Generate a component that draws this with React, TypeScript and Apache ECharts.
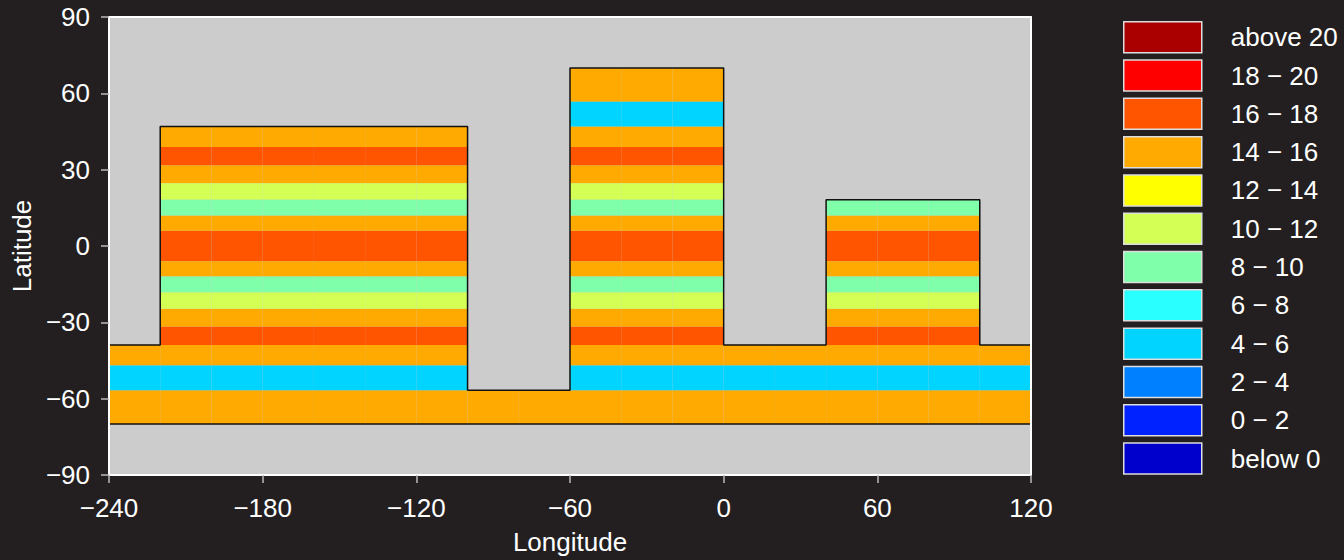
import React, { useEffect, useRef } from "react";
import * as echarts from "echarts";

// Longitude segments of the domain and the latitude of the top of each one
const segLonStart = [-240, -220, -100, -60, 0, 40, 100];
const segLonEnd = [-220, -100, -60, 0, 40, 100, 120];
const segTopLat = [-38.9, 47, -56.7, 70, -38.9, 18.2, -38.9];
const domainBottomLat = -70;
const cellWidth = 20;

// Zonal bands (edges from north to south) and the temperature in each band
const bandEdges = [70, 56.7, 47, 38.9, 31.6, 24.7, 18.2, 12, 6, -6, -12, -18.2, -24.7, -31.6, -38.9, -47, -56.7, -70];
const bandTemp = [15, 5, 15, 17, 15, 11, 9, 15, 17, 15, 9, 11, 15, 17, 15, 5, 15];

// Temperature classes
const classLabels = [
  "above 20", "18 \u2212 20", "16 \u2212 18", "14 \u2212 16", "12 \u2212 14", "10 \u2212 12",
  "8 \u2212 10", "6 \u2212 8", "4 \u2212 6", "2 \u2212 4", "0 \u2212 2", "below 0",
];
const classLower = [20, 18, 16, 14, 12, 10, 8, 6, 4, 2, 0, -Infinity];
const classColors = [
  "#AA0000", "#FF0000", "#FF5500", "#FFAA00", "#FFFF00", "#D4FF55",
  "#80FFAA", "#2AFFFF", "#00D4FF", "#0080FF", "#0022FF", "#0000CC",
];

const xTicks = { min: -240, max: 120, interval: 60 };
const yTicks = { min: -90, max: 90, interval: 30 };

const FONT = "'Liberation Sans', Arial, Helvetica, sans-serif";
const BG = "#231F20";

function classOf(t: number) {
  for (let i = 0; i < classLower.length; i++) if (t >= classLower[i]) return i;
  return classLower.length - 1;
}

function buildCells() {
  const perClass: number[][][] = classLabels.map(() => []);
  segLonStart.forEach((l0, s) => {
    const l1 = segLonEnd[s];
    const top = segTopLat[s];
    for (let b = 0; b < bandTemp.length; b++) {
      const bt = bandEdges[b];
      const bb = bandEdges[b + 1];
      if (bt > top + 1e-6) continue;
      const c = classOf(bandTemp[b]);
      for (let x = l0; x < l1; x += cellWidth) {
        perClass[c].push([x, Math.min(x + cellWidth, l1), bt, bb]);
      }
    }
  });
  return perClass;
}

function buildOutline() {
  const pts: number[][] = [];
  segLonStart.forEach((l0, s) => {
    pts.push([l0, segTopLat[s]]);
    pts.push([segLonEnd[s], segTopLat[s]]);
  });
  pts.push([segLonEnd[segLonEnd.length - 1], domainBottomLat]);
  pts.push([segLonStart[0], domainBottomLat]);
  pts.push([segLonStart[0], segTopLat[0]]);
  return pts;
}

const minusFmt = (v: number) => String(v).replace("-", "\u2212");

export default function App() {
  const ref = useRef<HTMLDivElement>(null);

  useEffect(() => {
    document.body.style.margin = "0";
    document.body.style.background = BG;
    const chart = echarts.init(ref.current!, null, { renderer: "svg" });
    const perClass = buildCells();

    const cellSeries = classLabels.map((name, i) => ({
      name,
      type: "custom" as const,
      z: 2,
      itemStyle: { color: classColors[i] },
      encode: { x: [0, 1], y: [2, 3] },
      data: perClass[i],
      renderItem: (params: any, api: any) => {
        const p0 = api.coord([api.value(0), api.value(2)]);
        const p1 = api.coord([api.value(1), api.value(3)]);
        return {
          type: "rect",
          shape: { x: p0[0], y: p0[1], width: p1[0] - p0[0], height: p1[1] - p0[1] },
          style: { fill: classColors[i] },
        };
      },
    }));

    const axisText = { color: "#FFFFFF", fontSize: 26, fontFamily: FONT };

    chart.setOption({
      animation: false,
      backgroundColor: BG,
      grid: {
        left: 109,
        right: 313,
        top: 17,
        bottom: 82,
        show: true,
        backgroundColor: "#CCCCCC",
        borderWidth: 0,
      },
      legend: {
        orient: "vertical",
        left: 1123,
        top: 21,
        padding: 0,
        itemWidth: 78,
        itemHeight: 31,
        itemGap: 5.8,
        icon: "rect",
        selectedMode: false,
        data: classLabels,
        itemStyle: { borderColor: "#DDDDDD", borderWidth: 1.5 },
        textStyle: { color: "#FFFFFF", fontSize: 26, fontFamily: FONT, padding: [0, 0, 0, 24] },
      },
      xAxis: [
        {
          type: "value",
          ...xTicks,
          name: "Longitude",
          nameLocation: "middle",
          nameGap: 54,
          nameTextStyle: axisText,
          z: 10,
          axisLine: { show: true, onZero: false, lineStyle: { color: "#FFFFFF", width: 2 } },
          axisTick: { show: true, length: 8, lineStyle: { color: "#BBBBBB", width: 1.5 } },
          axisLabel: { ...axisText, margin: 20, formatter: minusFmt },
          splitLine: { show: false },
        },
        {
          type: "value",
          ...xTicks,
          position: "top",
          z: 10,
          axisLine: { show: true, onZero: false, lineStyle: { color: "#FFFFFF", width: 2 } },
          axisTick: { show: false },
          axisLabel: { show: false },
          splitLine: { show: false },
        },
      ],
      yAxis: [
        {
          type: "value",
          ...yTicks,
          name: "Latitude",
          nameLocation: "middle",
          nameGap: 71,
          nameTextStyle: axisText,
          z: 10,
          axisLine: { show: true, onZero: false, lineStyle: { color: "#FFFFFF", width: 2 } },
          axisTick: { show: true, length: 8, lineStyle: { color: "#BBBBBB", width: 1.5 } },
          axisLabel: { ...axisText, margin: 19, formatter: minusFmt },
          splitLine: { show: false },
        },
        {
          type: "value",
          ...yTicks,
          position: "right",
          z: 10,
          axisLine: { show: true, onZero: false, lineStyle: { color: "#FFFFFF", width: 2 } },
          axisTick: { show: false },
          axisLabel: { show: false },
          splitLine: { show: false },
        },
      ],
      series: [
        ...cellSeries,
        {
          name: "outline",
          type: "line",
          z: 5,
          symbol: "none",
          silent: true,
          data: buildOutline(),
          lineStyle: { color: "#111111", width: 1.5 },
        },
      ],
    });

    return () => chart.dispose();
  }, []);

  return <div ref={ref} style={{ width: 1344, height: 560, background: BG }} />;
}
